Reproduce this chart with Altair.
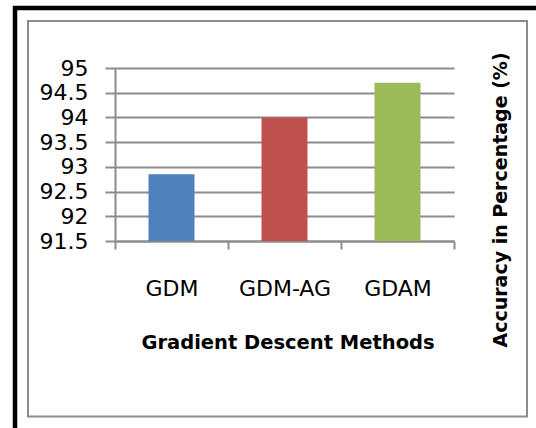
import altair as alt
import pandas as pd

# Accuracy of each gradient descent variant (%)
methods = ["GDM", "GDM-AG", "GDAM"]
accuracy = [92.85, 94.0, 94.7]
colors = ["#4F81BD", "#C0504D", "#9BBB59"]
y_ticks = [91.5, 92, 92.5, 93, 93.5, 94, 94.5, 95]
y_floor = 91.5

x_title = "Gradient Descent Methods"
y_title = "Accuracy in Percentage (%)"

FONT = "DejaVu Sans"
GRID = "#8c8c8c"

df = pd.DataFrame({"method": methods, "accuracy": accuracy, "color": colors})

W, H = 339, 173

bars = alt.Chart(df).mark_bar(width=46).encode(
    x=alt.X(
        "method:N",
        sort=methods,
        scale=alt.Scale(paddingInner=0, paddingOuter=0),
        axis=alt.Axis(
            title=x_title,
            titleFont=FONT,
            titleFontSize=19.5,
            titleFontWeight="bold",
            titleColor="black",
            titleBaseline="alphabetic",
            titleY=107,
            titleX=W / 2 + 3,
            labelFont=FONT,
            labelFontSize=22,
            labelColor="black",
            labelAngle=0,
            labelBaseline="alphabetic",
            labelPadding=46,
            tickBand="extent",
            tickSize=8,
            tickColor=GRID,
            tickWidth=2,
            domainColor=GRID,
            domainWidth=2,
            grid=False,
        ),
    ),
    y=alt.Y(
        "accuracy:Q",
        scale=alt.Scale(domain=[91.5, 95], nice=False, zero=False),
        axis=alt.Axis(
            title=None,
            values=y_ticks,
            format="~g",
            labelFont=FONT,
            labelFontSize=22,
            labelColor="black",
            labelPadding=17,
            tickSize=10,
            tickColor=GRID,
            tickWidth=2,
            domainColor=GRID,
            domainWidth=2,
            grid=True,
            gridColor=GRID,
            gridWidth=2,
        ),
    ),
    y2=alt.datum(y_floor),
    color=alt.Color("color:N", scale=None),
)

# Vertical axis title set at the right of the plot
ytitle = alt.Chart(pd.DataFrame({"t": [y_title]})).mark_text(
    font=FONT,
    fontSize=19,
    fontWeight="bold",
    color="black",
    angle=270,
    align="center",
    baseline="alphabetic",
).encode(x=alt.value(392), y=alt.value(132), text="t:N")

# Chart-area frames
frame_data = pd.DataFrame({"k": [0]})
outer = alt.Chart(frame_data).mark_rect(
    filled=False, stroke="black", strokeWidth=4.5
).encode(
    x=alt.value(-100), x2=alt.value(485), y=alt.value(-60), y2=alt.value(440)
)
inner = alt.Chart(frame_data).mark_rect(
    filled=False, stroke=GRID, strokeWidth=2
).encode(
    x=alt.value(-87), x2=alt.value(412), y=alt.value(-47), y2=alt.value(348.5)
)

chart = (
    alt.layer(outer, inner, bars, ytitle)
    .properties(
        width=W,
        height=H,
        autosize=alt.AutoSizeParams(type="none"),
        padding={"left": 115, "top": 68, "right": 536 - 115 - W, "bottom": 428 - 68 - H},
        background="white",
    )
    .configure_view(stroke=None)
)

chart.save("out.html", embed_options={"renderer": "svg", "actions": False})
